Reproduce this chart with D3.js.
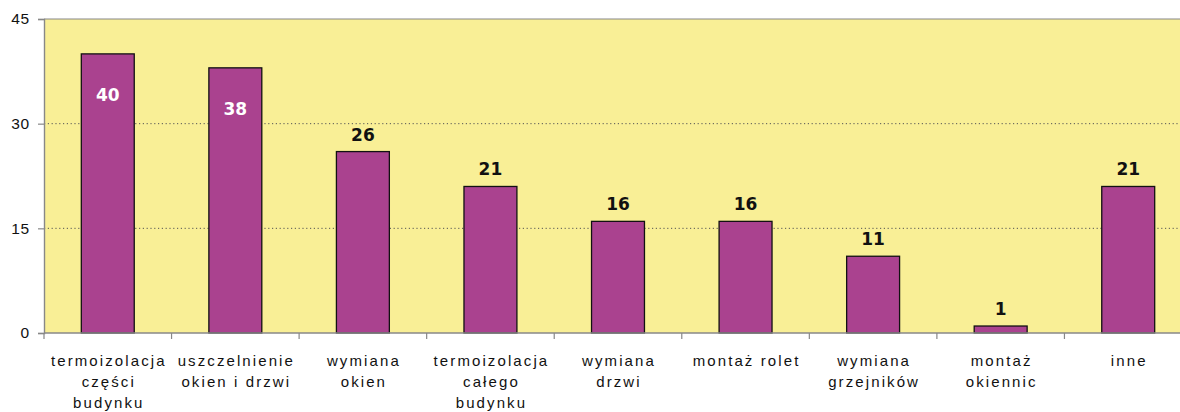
<!DOCTYPE html>
<html>
<head>
<meta charset="utf-8">
<script src="https://cdn.jsdelivr.net/npm/d3@7/dist/d3.min.js"></script>
<style>
  html, body { margin: 0; padding: 0; background: #fff; }
  svg { display: block; }
</style>
</head>
<body>
<svg id="chart" width="1180" height="412"></svg>
<script>
// Categories (each label split into display lines)
const categories = [
  ["termoizolacja", "części", "budynku"],
  ["uszczelnienie", "okien i drzwi"],
  ["wymiana", "okien"],
  ["termoizolacja", "całego", "budynku"],
  ["wymiana", "drzwi"],
  ["montaż rolet"],
  ["wymiana", "grzejników"],
  ["montaż", "okiennic"],
  ["inne"]
];
const values = [40, 38, 26, 21, 16, 16, 11, 1, 21];
const yTicks = [0, 15, 30, 45];

const svg = d3.select("#chart");
const margin = { left: 44, top: 19, bottom: 79 };
const plotRight = 1192;
const height = 412 - margin.top - margin.bottom;

const x = d3.scaleBand()
  .domain(d3.range(categories.length))
  .range([margin.left, plotRight])
  .padding(0);
const y = d3.scaleLinear().domain([0, 45]).range([margin.top + height, margin.top]);

const barW = x.bandwidth() * 0.415;

// plot background
svg.append("rect")
  .attr("x", margin.left).attr("y", margin.top)
  .attr("width", plotRight - margin.left).attr("height", height)
  .attr("fill", "#F9EF96");

// dotted gridlines
svg.append("g")
  .selectAll("line")
  .data(yTicks.filter(d => d > 0 && d < 45))
  .join("line")
  .attr("x1", margin.left).attr("x2", plotRight)
  .attr("y1", d => y(d)).attr("y2", d => y(d))
  .attr("stroke", "#555").attr("stroke-width", 1)
  .attr("stroke-dasharray", "1.2,2.6");

// top border
svg.append("line")
  .attr("x1", margin.left).attr("x2", plotRight)
  .attr("y1", y(45)).attr("y2", y(45))
  .attr("stroke", "#888").attr("stroke-width", 1.2);

// bars
svg.append("g")
  .selectAll("rect")
  .data(values)
  .join("rect")
  .attr("x", (d, i) => x(i) + x.bandwidth() / 2 - barW / 2)
  .attr("y", d => y(d))
  .attr("width", barW)
  .attr("height", d => y(0) - y(d))
  .attr("fill", "#AA428F")
  .attr("stroke", "#111").attr("stroke-width", 1.3);

// value labels: inside the tallest bars, above the rest
const inside = d => d >= 35;
svg.append("g")
  .selectAll("text")
  .data(values)
  .join("text")
  .attr("x", (d, i) => x(i) + x.bandwidth() / 2)
  .attr("y", d => inside(d) ? y(d) + 47 : y(d) - 11)
  .attr("text-anchor", "middle")
  .attr("font-family", "Verdana, 'DejaVu Sans', sans-serif")
  .attr("font-weight", "bold")
  .attr("font-size", 17)
  .attr("fill", d => inside(d) ? "#fff" : "#111")
  .text(d => d);

// y axis
const yAxis = d3.axisLeft(y).tickValues(yTicks).tickSize(6).tickPadding(8);
const gy = svg.append("g")
  .attr("transform", `translate(${margin.left},0)`)
  .call(yAxis);
gy.select(".domain").attr("stroke", "#888").attr("stroke-width", 1.4);
gy.selectAll(".tick line").attr("stroke", "#888").attr("stroke-width", 1.2);
gy.selectAll(".tick text")
  .attr("font-family", "Arial, 'Liberation Sans', sans-serif")
  .attr("font-size", 15.5).attr("letter-spacing", "0.8").attr("fill", "#111");

// x axis with category separators
const gx = svg.append("g")
  .attr("transform", `translate(0,${y(0)})`);
gx.append("line")
  .attr("x1", margin.left).attr("x2", plotRight)
  .attr("stroke", "#888").attr("stroke-width", 1.4);
gx.selectAll("line.tick")
  .data(d3.range(categories.length + 1))
  .join("line")
  .attr("class", "tick")
  .attr("x1", i => i < categories.length ? x(i) : plotRight)
  .attr("x2", i => i < categories.length ? x(i) : plotRight)
  .attr("y1", 0).attr("y2", 6)
  .attr("stroke", "#888").attr("stroke-width", 1.2);

const labels = svg.append("g")
  .selectAll("text")
  .data(categories)
  .join("text")
  .attr("text-anchor", "middle")
  .attr("font-family", "Arial, 'Liberation Sans', sans-serif")
  .attr("font-size", 15)
  .attr("letter-spacing", "2.1")
  .attr("fill", "#111");
labels.selectAll("tspan")
  .data((d, i) => d.map(line => ({ line, i })))
  .join("tspan")
  .attr("x", d => x(d.i) + x.bandwidth() / 2 + 1)
  .attr("y", (d, j) => 366 + j * 21)
  .text(d => d.line);
</script>
</body>
</html>
